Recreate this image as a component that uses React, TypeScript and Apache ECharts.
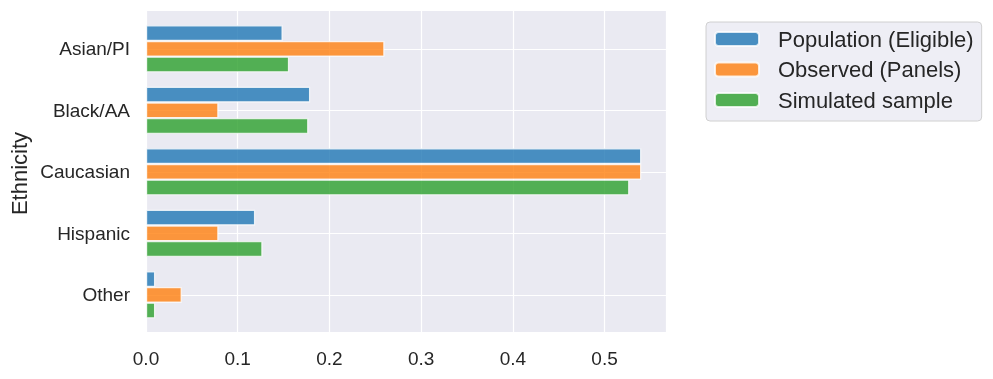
import React, { useEffect, useRef } from "react";
import * as echarts from "echarts";

const categories = ["Asian/PI", "Black/AA", "Caucasian", "Hispanic", "Other"];
const seriesNames = ["Population (Eligible)", "Observed (Panels)", "Simulated sample"];
const population = [0.149, 0.179, 0.54, 0.119, 0.01];
const observed = [0.26, 0.079, 0.54, 0.079, 0.039];
const simulated = [0.156, 0.177, 0.527, 0.127, 0.01];
const xTicks = [0, 0.1, 0.2, 0.3, 0.4, 0.5];
const colors = ["#1f77b4", "#ff7f0e", "#2ca02c"];
const yTitle = "Ethnicity";

const FONT = "'Liberation Sans', Arial, sans-serif";

export default function App() {
  const ref = useRef<HTMLDivElement>(null);
  useEffect(() => {
    if (!ref.current) return;
    const chart = echarts.init(ref.current, undefined, { renderer: "svg" });
    const values = [population, observed, simulated];
    const xMax = 0.567;
    chart.setOption({
      animation: false,
      textStyle: { fontFamily: FONT },
      grid: [
        {
          left: 146, top: 11, width: 520, height: 321,
          show: true, backgroundColor: "#EAEAF2", borderWidth: 0,
        },
        { left: 146, top: 48.8, width: 520, height: 246 },
      ],
      graphic: [
        {
          type: "text",
          x: 19,
          y: 173.5,
          rotation: Math.PI / 2,
          style: {
            text: yTitle,
            fontSize: 22,
            fontFamily: FONT,
            fill: "#262626",
            align: "center",
            verticalAlign: "middle",
          },
        },
      ],
      legend: {
        orient: "vertical",
        left: 706,
        top: 22,
        padding: [6, 8, 10, 8],
        itemWidth: 44,
        itemHeight: 14,
        itemGap: 8.5,
        selectedMode: false,
        backgroundColor: "rgba(234,234,242,0.8)",
        borderColor: "#d0d0d0",
        borderWidth: 1,
        borderRadius: 4,
        data: seriesNames,
        textStyle: { fontSize: 22, color: "#262626", fontFamily: FONT, padding: [0, 0, 0, 14] },
      },
      xAxis: [
        {
          gridIndex: 0, type: "value", min: 0, max: xMax, interval: 0.1,
          axisLine: { show: false }, axisTick: { show: false },
          axisLabel: {
            fontSize: 19, color: "#262626", margin: 17, fontFamily: FONT,
            formatter: (v: number) => (xTicks.some((t) => Math.abs(t - v) < 1e-9) ? v.toFixed(1) : ""),
            showMaxLabel: false,
          },
          splitLine: { show: true, lineStyle: { color: "#ffffff", width: 1.2 } },
        },
        { gridIndex: 1, type: "value", min: 0, max: xMax, show: false, splitLine: { show: false } },
      ],
      yAxis: [
        { gridIndex: 0, type: "value", min: 0, max: 1, show: false, splitLine: { show: false } },
        {
          gridIndex: 1, type: "category", data: categories, inverse: true, boundaryGap: false,
          axisLine: { show: false }, axisTick: { show: false },
          axisLabel: { fontSize: 19, color: "#262626", margin: 16, fontFamily: FONT },
          splitLine: { show: true, lineStyle: { color: "#ffffff", width: 1.2 } },
        },
      ],
      series: seriesNames.map((name, i) => ({
        name,
        type: "bar",
        xAxisIndex: 1,
        yAxisIndex: 1,
        data: values[i],
        barWidth: 15.7,
        barGap: "0%",
        itemStyle: { color: colors[i], opacity: 0.8, borderColor: "#ffffff", borderWidth: 1.2 },
      })),
    });
    return () => chart.dispose();
  }, []);
  return <div ref={ref} style={{ position: "fixed", left: 0, top: 0, width: 993, height: 379 }} />;
}
